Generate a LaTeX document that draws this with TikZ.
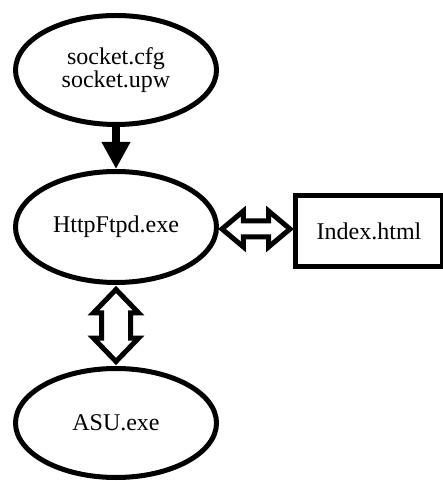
\documentclass[tikz,border=0pt]{standalone}
\usepackage{fontspec}
\setmainfont{Liberation Serif}
\usetikzlibrary{shapes.geometric,shapes.arrows,arrows.meta,calc}

\begin{document}
\begin{tikzpicture}[x=1pt,y=1pt,
    procnode/.style={ellipse,draw,line width=5pt,minimum width=201pt,minimum height=109pt,
        inner sep=0pt,align=center,font=\fontsize{24pt}{21pt}\selectfont},
    filebox/.style={rectangle,draw,line width=5pt,minimum width=147pt,minimum height=71pt,
        font=\fontsize{24pt}{21pt}\selectfont},
    linkarrow/.style={double arrow,draw,fill=white,line width=5pt,inner xsep=0pt,minimum width=0pt}]
    \useasboundingbox (0,0) rectangle (443,481);
    % programs and files
    \node[procnode] (cfg) at (116,411) {socket.cfg\\socket.upw};
    \node[procnode,minimum height=111pt] (httpd) at (116,254) {HttpFtpd.exe};
    \node[procnode] (asu) at (116,58) {ASU.exe};
    \node[filebox] (index) at (369,250) {Index.html};
    % links between them
    \draw[line width=8pt,-{Triangle[width=27pt,length=27pt]}] (cfg) -- (httpd);
    \node[linkarrow,inner ysep=5.5pt,double arrow head extend=10pt,double arrow tip angle=80,
        minimum height=68pt] (webarrow) at ($(httpd.east)!0.5!(index.west)$) {};
    \node[linkarrow,rotate=90,inner ysep=12pt,double arrow head extend=8pt,double arrow tip angle=88,
        minimum height=72pt] (asuarrow) at ($(httpd.south)!0.5!(asu.north)$) {};
\end{tikzpicture}
\end{document}
